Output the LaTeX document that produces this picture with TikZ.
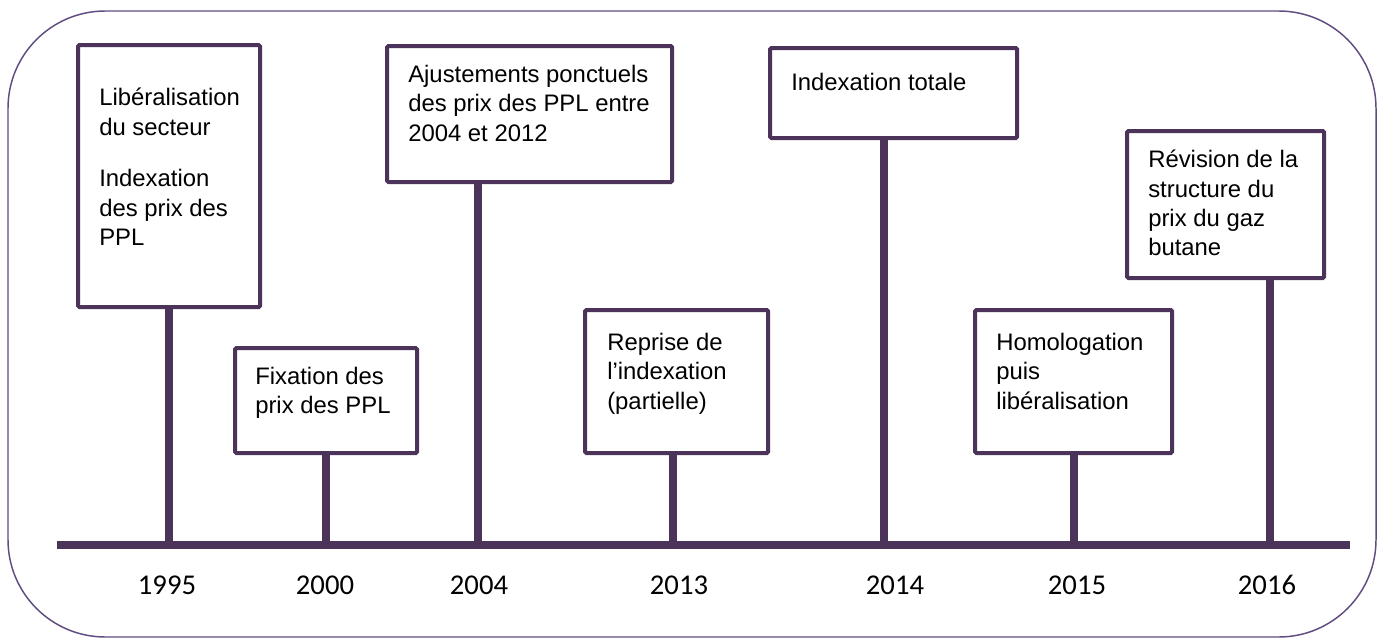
\documentclass[tikz,border=0pt]{standalone}
\usepackage{fontspec}
\setmainfont{Liberation Sans}
\newfontfamily\yearfont{Carlito}
\usetikzlibrary{positioning,calc}
\definecolor{tlplum} {RGB}{76, 51, 89}
\definecolor{tlframe}{RGB}{96, 76,128}
\tikzset{
  evt/.style={draw=tlplum,line width=3pt,fill=white,rounded corners=1pt,
    anchor=north west,inner sep=0pt},
  evtsz/.style 2 args={minimum width=#1*0.75pt,minimum height=#2*0.75pt},
  evttxt/.style={anchor=north west,inner sep=0pt,align=left,
    font=\fontsize{17.9}{22}\selectfont},
  stem/.style={draw=tlplum,line width=5.6pt},
  tline/.style={draw=tlplum,line width=5.3pt},
  yr/.style={font=\yearfont\fontsize{21.5}{25}\selectfont,inner sep=0pt},
  frame/.style={draw=tlframe,line width=1.1pt,rounded corners=73pt},
}

\begin{document}
\begin{tikzpicture}[x=0.75pt,y=-0.75pt]
  \useasboundingbox (0,0) rectangle (1381,639);
  % outer frame
  \draw[frame] (8,11) rectangle (1376,637);

  % timeline
  \coordinate (tl0) at (57,545);
  \coordinate (tl1) at (1350,545);
  \coordinate (t1995) at (169,545);
  \coordinate (t2000) at (326,545);
  \coordinate (t2004) at (478,545);
  \coordinate (t2013) at (673,545);
  \coordinate (t2014) at (884,545);
  \coordinate (t2015) at (1074,545);
  \coordinate (t2016) at (1270,545);

  % event boxes
  \node[evt,evtsz={182}{262}] at (76,43) (b1995) {};
  \node[evttxt] at ([shift={(23,45)}]b1995.north west)
    {Libéralisation\\du secteur\\[16.7pt]Indexation\\des prix des\\PPL};
  \node[evt,evtsz={182}{105}] at (233,346) (b2000) {};
  \node[evttxt] at ([shift={(22,21)}]b2000.north west)
    {Fixation des\\prix des PPL};
  \node[evt,evtsz={285}{136}] at (385,44) (b2004) {};
  \node[evttxt] at ([shift={(23,21)}]b2004.north west)
    {Ajustements ponctuels\\des prix des PPL entre\\2004 et 2012};
  \node[evt,evtsz={183}{143}] at (583,308) (b2013) {};
  \node[evttxt] at ([shift={(24,25)}]b2013.north west)
    {Reprise de\\l’indexation\\(partielle)};
  \node[evt,evtsz={247}{90}] at (768,46) (b2014) {};
  \node[evttxt] at ([shift={(23,27)}]b2014.north west)
    {Indexation totale};
  \node[evt,evtsz={197}{143}] at (973,308) (b2015) {};
  \node[evttxt] at ([shift={(23,25)}]b2015.north west)
    {Homologation\\puis\\libéralisation};
  \node[evt,evtsz={197}{147}] at (1125,129) (b2016) {};
  \node[evttxt] at ([shift={(23,21)}]b2016.north west)
    {Révision de la\\structure du\\prix du gaz\\butane};

  % stems
  \draw[stem] (t1995) -- (t1995 |- b1995.south);
  \draw[stem] (t2000) -- (t2000 |- b2000.south);
  \draw[stem] (t2004) -- (t2004 |- b2004.south);
  \draw[stem] (t2013) -- (t2013 |- b2013.south);
  \draw[stem] (t2014) -- (t2014 |- b2014.south);
  \draw[stem] (t2015) -- (t2015 |- b2015.south);
  \draw[stem] (t2016) -- (t2016 |- b2016.south);
  \draw[tline] (tl0) -- (tl1);

  % years
  \node[yr] at ([shift={(-2,40)}]t1995) {1995};
  \node[yr] at ([shift={(-1,40)}]t2000) {2000};
  \node[yr] at ([shift={(1,40)}]t2004) {2004};
  \node[yr] at ([shift={(6,40)}]t2013) {2013};
  \node[yr] at ([shift={(11,40)}]t2014) {2014};
  \node[yr] at ([shift={(3,40)}]t2015) {2015};
  \node[yr] at ([shift={(-3,40)}]t2016) {2016};
\end{tikzpicture}
\end{document}
